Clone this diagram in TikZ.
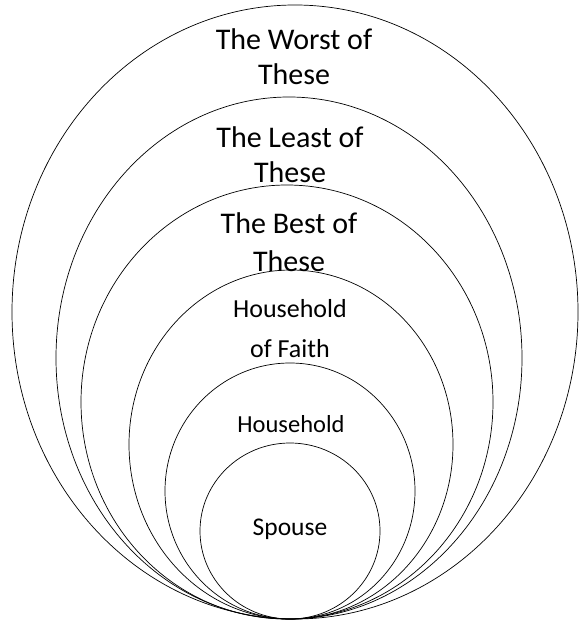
\documentclass[tikz,border=0pt]{standalone}
\usepackage{fontspec}
\setmainfont{Carlito}
\begin{document}
\begin{tikzpicture}[x=1pt,y=-1pt,
  ring/.style={draw=black,line width=0.7pt},
  lbl/.style={anchor=base,inner sep=0pt,align=center,text=black}]
\useasboundingbox[fill=white] (0,0) rectangle (581,623);
% nested ellipses, all tangent at the bottom
\draw[ring] (295,312) ellipse [x radius=283,y radius=307];
\draw[ring] (289,358) ellipse [x radius=233,y radius=261];
\draw[ring] (287,402) ellipse [x radius=206,y radius=217];
\draw[ring] (291,444.5) ellipse [x radius=162,y radius=174.5];
\draw[ring] (290,491) ellipse [x radius=125,y radius=128];
\draw[ring] (290,531) ellipse [x radius=90,y radius=88];
% labels (base anchor = baseline of the last line)
\node[lbl,font=\fontsize{30}{35}\selectfont] (worst) at (294,85) {The Worst of\\These};
\node[lbl,font=\fontsize{30}{35}\selectfont] (least) at (290,182) {The Least of\\These};
\node[lbl,font=\fontsize{30}{38}\selectfont] (best) at (289,271) {The Best of\\These};
\node[lbl,font=\fontsize{26}{40}\selectfont] (faith) at (290,357) {Household\\of Faith};
\node[lbl,font=\fontsize{24.5}{30}\selectfont] (house) at (291,432) {Household};
\node[lbl,font=\fontsize{25.5}{30}\selectfont] (spouse) at (290,535) {Spouse};
\end{tikzpicture}
\end{document}
